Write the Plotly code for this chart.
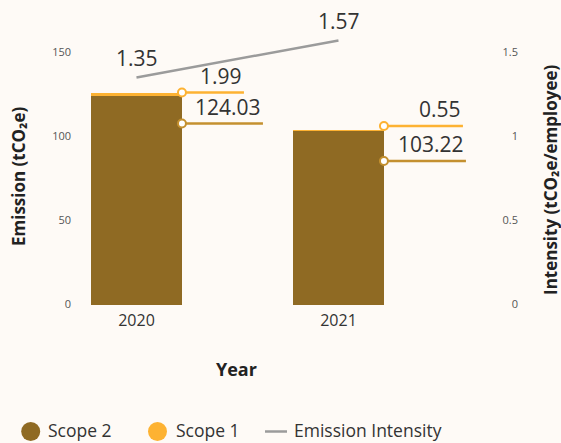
import plotly.graph_objects as go

# ---- data ----
years = ["2020", "2021"]
scope2 = [124.03, 103.22]
scope1 = [1.99, 0.55]
intensity = [1.35, 1.57]
left_tickvals = [0, 50, 100, 150]
right_tickvals = [0, 0.5, 1, 1.5]
right_ticktext = ["0", "0.5", "1", "1.5"]
series_names = ["Scope 2", "Scope 1", "Emission Intensity"]

# ---- styles ----
BROWN = "#8f6a23"
ORANGE = "#fdb232"
LEADER2 = "#c4902f"
GREY = "#9b9b9b"
TXT = "#333333"
FONT = "Open Sans"
BAR_W = 0.45
S1_LEN = [62, 79]      # leader line lengths in px
S2_LEN = [81, 82]
S1_DY = [0, 4]         # pixel offsets of callout markers from stack top
S2_DY = [-31, -31]

W, H = 561, 443
L, R, T, B = 72, 40, 27, 130
pw, ph = W - L - R, H - T - B


def px_x(px):
    return (px - L) / pw


def px_y(py):
    return (H - B - py) / ph


xpos = list(range(len(years)))

fig = go.Figure()
fig.add_trace(go.Bar(x=xpos, y=scope2, width=BAR_W, marker_color=BROWN,
                     marker_line_width=0, showlegend=False, name=series_names[0]))
fig.add_trace(go.Bar(x=xpos, y=scope1, width=BAR_W, marker_color=ORANGE,
                     marker_line_width=0, showlegend=False, name=series_names[1]))
fig.add_trace(go.Scatter(x=xpos, y=intensity, yaxis="y2", mode="lines",
                         line=dict(color=GREY, width=2.5), showlegend=False,
                         name=series_names[2]))

shapes = []
annotations = []
for i in xpos:
    top = scope2[i] + scope1[i]
    edge = i + BAR_W / 2
    for val, ln, dy, col in ((scope1[i], S1_LEN[i], S1_DY[i], ORANGE),
                             (scope2[i], S2_LEN[i], S2_DY[i], LEADER2)):
        shapes.append(dict(type="line", xref="x", yref="y",
                           xsizemode="pixel", ysizemode="pixel",
                           xanchor=edge, yanchor=top,
                           x0=0, x1=ln, y0=dy, y1=dy,
                           line=dict(color=col, width=2.5)))
        shapes.append(dict(type="circle", xref="x", yref="y",
                           xsizemode="pixel", ysizemode="pixel",
                           xanchor=edge, yanchor=top,
                           x0=-4, x1=4, y0=dy - 4, y1=dy + 4,
                           fillcolor="white", line=dict(color=col, width=2)))
        annotations.append(dict(x=edge, y=top, xref="x", yref="y",
                                xshift=ln, yshift=dy + 1,
                                xanchor="right", yanchor="bottom",
                                text=f"{val:.2f}", showarrow=False,
                                font=dict(family=FONT, size=21, color=TXT)))
    annotations.append(dict(x=i, y=intensity[i], xref="x", yref="y2",
                            yshift=3, xanchor="center", yanchor="bottom",
                            text=f"{intensity[i]:.2f}", showarrow=False,
                            font=dict(family=FONT, size=21, color=TXT)))

# axis titles
annotations.append(dict(x=px_x(18), y=px_y(176), xref="paper", yref="paper",
                        text="<b>Emission (tCO₂e)</b>", textangle=-90, showarrow=False,
                        xanchor="center", yanchor="middle",
                        font=dict(family=FONT, size=17, color="#222")))
annotations.append(dict(x=px_x(550), y=px_y(180), xref="paper", yref="paper",
                        text="<b>Intensity (tCO₂e/employee)</b>", textangle=-90,
                        showarrow=False, xanchor="center", yanchor="middle",
                        font=dict(family=FONT, size=17, color="#222")))
annotations.append(dict(x=px_x(236), y=px_y(369), xref="paper", yref="paper",
                        text="<b>Year</b>", showarrow=False,
                        xanchor="center", yanchor="middle",
                        font=dict(family=FONT, size=18, color="#222")))

# legend (drawn manually to match circle symbol sizes)
LEG_Y = 431.5
LEG_TY = 430
legend_items = [
    (series_names[0], BROWN, 30.7, 46),
    (series_names[1], ORANGE, 157.5, 174),
]
for name, col, cx, tx in legend_items:
    shapes.append(dict(type="circle", xref="paper", yref="paper",
                       xsizemode="pixel", ysizemode="pixel",
                       xanchor=px_x(cx), yanchor=px_y(LEG_Y),
                       x0=-9.5, x1=9.5, y0=-9.5, y1=9.5,
                       fillcolor=col, line=dict(width=0)))
    annotations.append(dict(x=px_x(tx), y=px_y(LEG_TY), xref="paper", yref="paper",
                            text=name, showarrow=False, xanchor="left", yanchor="middle",
                            font=dict(family=FONT, size=17.5, color=TXT)))
shapes.append(dict(type="line", xref="paper", yref="paper",
                   xsizemode="pixel", ysizemode="pixel",
                   xanchor=px_x(265), yanchor=px_y(LEG_Y),
                   x0=0, x1=22, y0=0, y1=0, line=dict(color=GREY, width=2.5)))
annotations.append(dict(x=px_x(291.5), y=px_y(LEG_TY), xref="paper", yref="paper",
                        text=series_names[2], showarrow=False, xanchor="left",
                        yanchor="middle", font=dict(family=FONT, size=17.5, color=TXT)))

fig.update_layout(
    width=W, height=H,
    margin=dict(l=L, r=R, t=T, b=B),
    paper_bgcolor="#fefaf6", plot_bgcolor="rgba(0,0,0,0)",
    barmode="stack",
    showlegend=False,
    font=dict(family=FONT, color=TXT),
    xaxis=dict(range=[-0.3193, 1.9035], tickvals=xpos, ticktext=years,
               showgrid=False, zeroline=False, showline=False, ticks="",
               ticklabelstandoff=-4,
               tickfont=dict(size=16, color=TXT), fixedrange=True),
    yaxis=dict(range=[-5, 165], tickvals=left_tickvals, showgrid=False,
               zeroline=False, showline=False, ticks="",
               tickfont=dict(size=11, color="#555")),
    yaxis2=dict(range=[-0.05, 1.65], tickvals=right_tickvals, ticktext=right_ticktext,
                overlaying="y", side="right", showgrid=False, zeroline=False,
                showline=False, ticks="", ticklabelposition="inside",
                tickfont=dict(size=11, color="#555")),
    shapes=shapes,
    annotations=annotations,
)

fig.write_html("out.html",
               config={"displayModeBar": False},
               post_script="document.body.style.margin='0';"
                           "document.body.style.background='#fefaf6';")
